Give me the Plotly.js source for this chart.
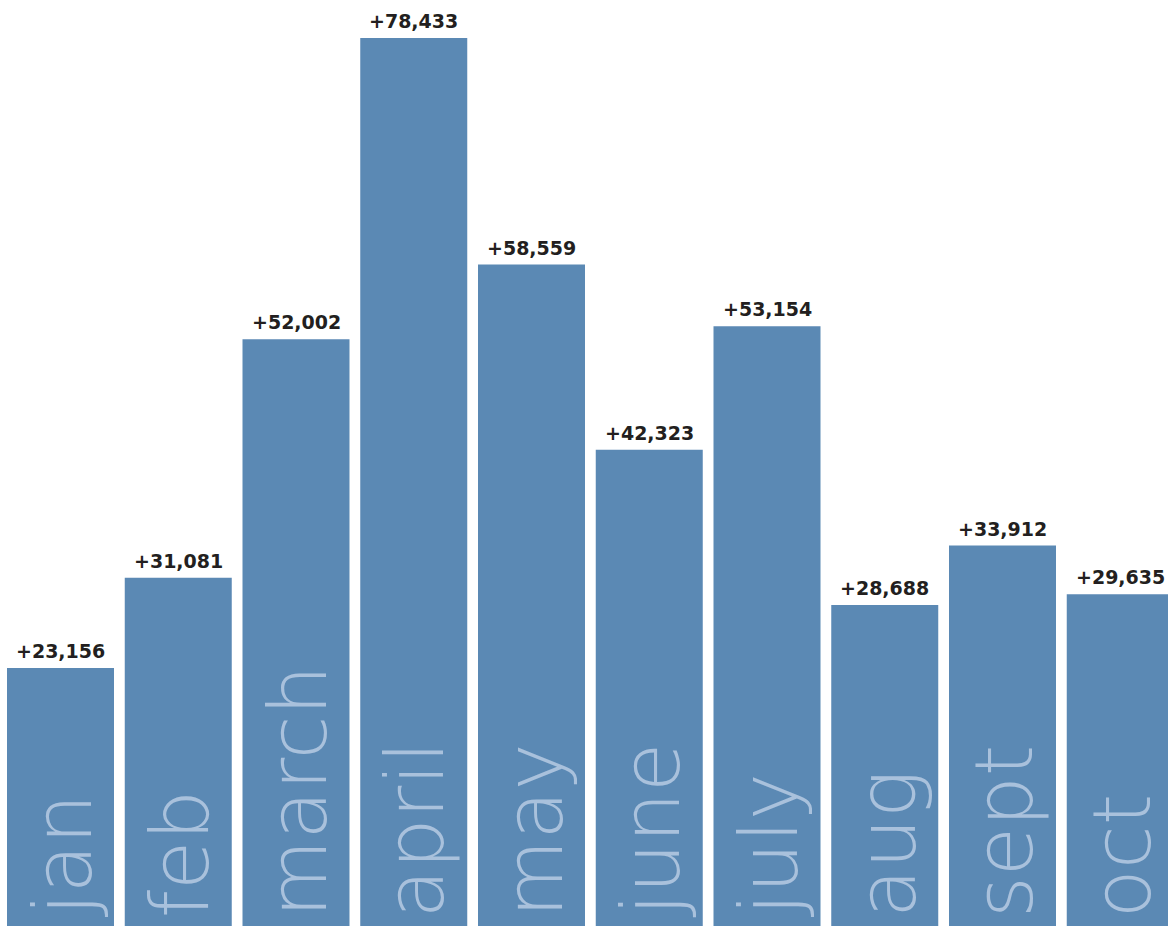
<!DOCTYPE html>
<html>
<head>
<meta charset="utf-8">
<script src="https://cdn.plot.ly/plotly-3.0.1.min.js"></script>
<style>html,body{margin:0;padding:0;background:#fff;}#chart{width:1168px;height:926px;}</style>
</head>
<body>
<div id="chart"></div>
<script>
const months = ["jan","feb","march","april","may","june","july","aug","sept","oct"];
const changes = [23156, 31081, 52002, 78433, 58559, 42323, 53154, 28688, 33912, 29635];

const barColor = "#5b89b4";
const monthColor = "#a9c1dc";

const trace = {
  type: "bar",
  x: months,
  y: changes,
  marker: {color: barColor, line: {width: 0}},
  hoverinfo: "none"
};

const fmt = v => "+" + v.toLocaleString("en-US");

const annotations = [];
months.forEach((m, i) => {
  annotations.push({
    x: m, y: changes[i], xref: "x", yref: "y",
    text: fmt(changes[i]),
    showarrow: false, xanchor: "center", yanchor: "bottom", yshift: 4,
    font: {family: "'DejaVu Sans', sans-serif", size: 19, color: "#231f20", weight: 700}
  });
  annotations.push({
    x: m, y: 0, xref: "x", yref: "paper",
    text: m,
    showarrow: false, textangle: -90, xanchor: "center", yanchor: "bottom", yshift: 6, xshift: 2,
    font: {family: "'DejaVu Sans ExtraLight', 'DejaVu Sans', sans-serif", size: 80, color: monthColor, weight: 200}
  });
});

const layout = {
  width: 1168, height: 926,
  margin: {l: 0, r: 0, t: 0, b: 0, pad: 0},
  paper_bgcolor: "#fff", plot_bgcolor: "#fff",
  bargap: 0.0913,
  showlegend: false,
  xaxis: {type: "category", range: [-0.5138, 9.4055], showticklabels: false, showgrid: false, zeroline: false, showline: false, ticks: ""},
  yaxis: {range: [526, 81776], showticklabels: false, showgrid: false, zeroline: false, showline: false, ticks: ""},
  annotations: annotations
};

Plotly.newPlot("chart", [trace], layout, {staticPlot: true, displayModeBar: false});
</script>
</body>
</html>
